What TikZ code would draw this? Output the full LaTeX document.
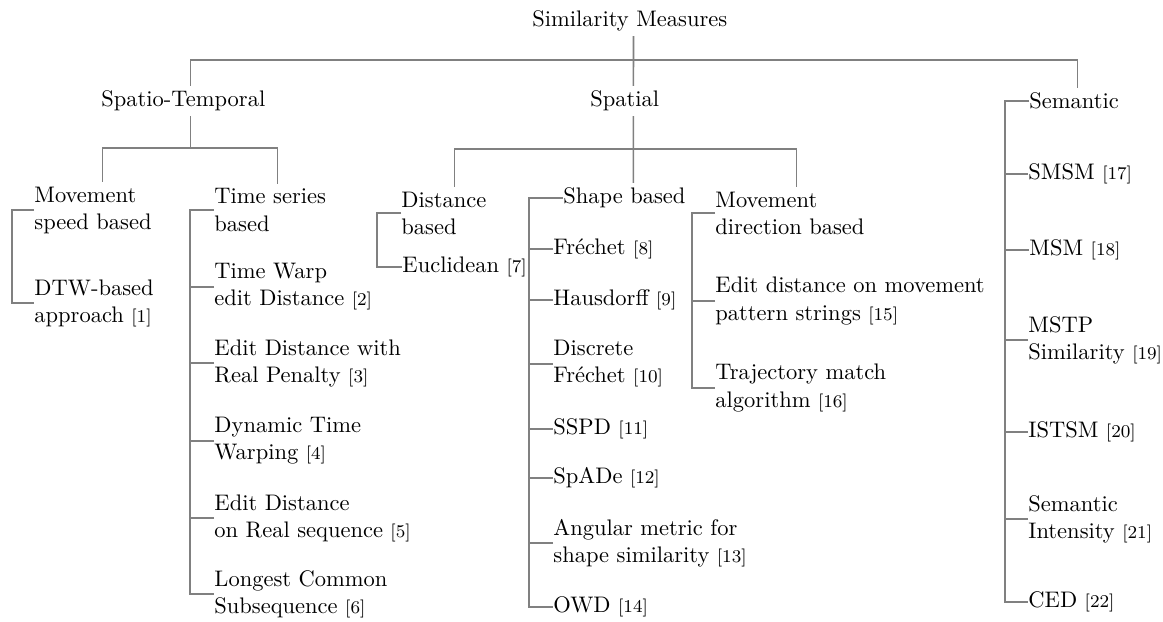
\documentclass[tikz,border=0pt]{standalone}
\usepackage{fontspec}
\definecolor{linegray}{RGB}{128,128,128}
\definecolor{txt}{RGB}{0,0,0}
\newcommand{\citeno}[1]{{\footnotesize[#1]}}
\begin{document}
\begin{tikzpicture}[x=0.4444pt,y=-0.4444pt,
  lbl/.style={inner xsep=0pt, inner ysep=2pt, align=left, anchor=west, text=txt, font=\fontsize{10}{12}\selectfont},
  edge/.style={draw=linegray, line width=0.7pt}]
\useasboundingbox (0,0) rectangle (1163,621);
% top levels
\node[lbl, text width=89.8pt] (root) at (532,21) {Similarity Measures};
\node[lbl, text width=79.1pt] (st) at (101,101) {Spatio-Temporal};
\node[lbl, text width=38.2pt] (sp) at (590,101) {Spatial};
\node[lbl, text width=42.7pt] (sem) at (1029,101) {Semantic};
% second level
\node[lbl, text width=60.4pt] (ms) at (34,210) {Movement\\speed based};
\node[lbl, text width=56pt] (ts) at (214,210) {Time series\\based};
\node[lbl, text width=47.1pt] (db) at (401,213) {Distance\\based};
\node[lbl, text width=62.2pt] (sh) at (563,198) {Shape based};
\node[lbl, text width=72pt] (md) at (715,213) {Movement\\direction based};
% leaves
\node[lbl] (dtw) at (34,303) {DTW-based\\approach \citeno{1}};
\node[lbl] (t1) at (214,287) {Time Warp\\edit Distance \citeno{2}};
\node[lbl] (t2) at (214,363) {Edit Distance with\\Real Penalty \citeno{3}};
\node[lbl] (t3) at (214,441) {Dynamic Time\\Warping \citeno{4}};
\node[lbl] (t4) at (214,518) {Edit Distance\\on Real sequence \citeno{5}};
\node[lbl] (t5) at (214,594) {Longest Common\\Subsequence \citeno{6}};
\node[lbl] (eu) at (402,267) {Euclidean \citeno{7}};
\node[lbl] (s1) at (553,249) {Fréchet \citeno{8}};
\node[lbl] (s2) at (553,300) {Hausdorff \citeno{9}};
\node[lbl] (s3) at (553,364) {Discrete\\Fréchet \citeno{10}};
\node[lbl] (s4) at (553,429) {SSPD \citeno{11}};
\node[lbl] (s5) at (553,478) {SpADe \citeno{12}};
\node[lbl] (s6) at (553,543) {Angular metric for\\shape similarity \citeno{13}};
\node[lbl] (s7) at (553,607) {OWD \citeno{14}};
\node[lbl] (m1) at (715,301) {Edit distance on movement\\pattern strings \citeno{15}};
\node[lbl] (m2) at (715,388) {Trajectory match\\algorithm \citeno{16}};
\node[lbl] (e1) at (1028,174) {SMSM \citeno{17}};
\node[lbl] (e2) at (1029,250) {MSM \citeno{18}};
\node[lbl] (e3) at (1028,340) {MSTP\\Similarity \citeno{19}};
\node[lbl] (e4) at (1028,432) {ISTSM \citeno{20}};
\node[lbl] (e5) at (1028,519) {Semantic\\Intensity \citeno{21}};
\node[lbl] (e6) at (1028,602) {CED \citeno{22}};
% helper coordinates
\coordinate (b1) at (0,60);
\coordinate (b2) at (0,148);
\coordinate (b3) at (0,149);
\coordinate (k1) at (12,0);
\coordinate (k2) at (190,0);
\coordinate (k3) at (377,0);
\coordinate (k4) at (529,0);
\coordinate (k5) at (692,0);
\coordinate (k6) at (1005,0);
% tree connectors
\draw[edge] (root.south) -- (sp.north);
\draw[edge] (st.north) |- (b1 -| sem.north) -- (sem.north);
\draw[edge] (st.south) -- (st.south |- b2);
\draw[edge] (ms.north) |- (b2 -| ts.north) -- (ts.north);
\draw[edge] (sp.south) -- (sh.north);
\draw[edge] (db.north) |- (b3 -| md.north) -- (md.north);
% folder brackets
\draw[edge] (ms.west) -| (dtw.west -| k1) -- (dtw.west);
\draw[edge] (ts.west) -| (t5.west -| k2) -- (t5.west);
\foreach \n in {t1,t2,t3,t4} \draw[edge] (\n.west) -- (\n.west -| k2);
\draw[edge] (db.west) -| (eu.west -| k3) -- (eu.west);
\draw[edge] (sh.west) -| (s7.west -| k4) -- (s7.west);
\foreach \n in {s1,s2,s3,s4,s5,s6} \draw[edge] (\n.west) -- (\n.west -| k4);
\draw[edge] (md.west) -| (m2.west -| k5) -- (m2.west);
\draw[edge] (m1.west) -- (m1.west -| k5);
\draw[edge] (sem.west) -| (e6.west -| k6) -- (e6.west);
\foreach \n in {e1,e2,e3,e4,e5} \draw[edge] (\n.west) -- (\n.west -| k6);
\end{tikzpicture}
\end{document}
